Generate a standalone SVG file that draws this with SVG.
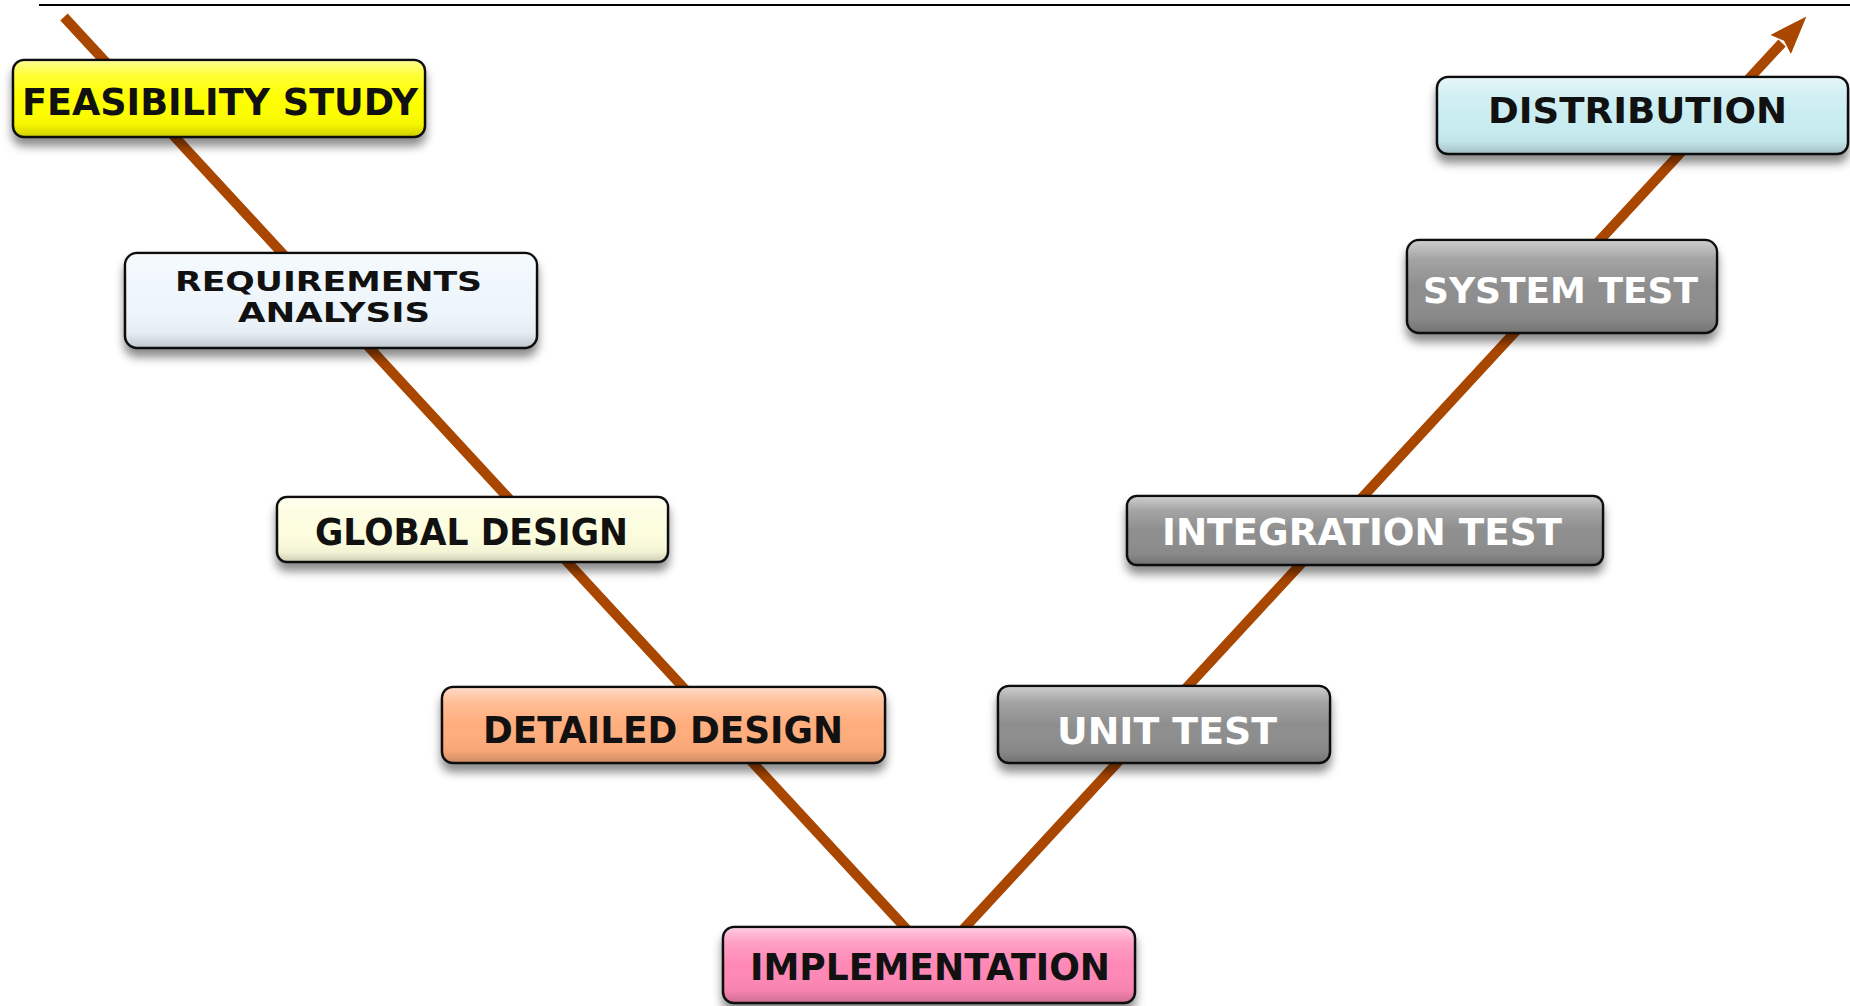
<svg xmlns="http://www.w3.org/2000/svg" width="1850" height="1006" viewBox="0 0 1850 1006">
<style>
.box{stroke:#111;stroke-width:2.5;filter:url(#shadow)}
.gloss{fill:url(#gloss);stroke:none}
.lbl{font-family:"DejaVu Sans","Liberation Sans",sans-serif;font-weight:bold;text-anchor:middle}
.dark{fill:#111}
.light{fill:#fff}
.conn{fill:none;stroke:#a94600;stroke-width:10;stroke-linejoin:miter}
</style>
<defs>
<filter id="shadow" x="-10%" y="-20%" width="120%" height="160%">
<feDropShadow dx="0" dy="8" stdDeviation="5" flood-color="#000" flood-opacity="0.45"/>
</filter>
<linearGradient id="gloss" x1="0" y1="0" x2="0" y2="1">
<stop offset="0" stop-color="#fff" stop-opacity="0.55"/>
<stop offset="0.2" stop-color="#fff" stop-opacity="0.2"/>
<stop offset="0.5" stop-color="#fff" stop-opacity="0"/>
<stop offset="0.85" stop-color="#000" stop-opacity="0.04"/>
<stop offset="1" stop-color="#000" stop-opacity="0.18"/>
</linearGradient>
<marker id="arrow" markerUnits="userSpaceOnUse" viewBox="0 0 38 28" refX="2" refY="14" markerWidth="38" markerHeight="28" orient="auto">
<path d="M0,0 L38,14 L0,28 L5,14 z" fill="#a94600"/>
</marker>
</defs>
<rect width="1850" height="1006" fill="#fff"/>
<line x1="39" y1="5" x2="1850" y2="5" stroke="#000" stroke-width="2"/>
<g id="connectors">
<polyline class="conn" points="64,17 935,960 1782,43" marker-end="url(#arrow)"/>
</g>
<g id="feasibility-study">
<rect class="box" x="13" y="60" width="412" height="77" rx="11" fill="#ffff00"/>
<rect class="gloss" x="14" y="61" width="410" height="75" rx="10"/>
<text class="lbl dark" x="220" y="115" font-size="38" textLength="396" lengthAdjust="spacingAndGlyphs">FEASIBILITY STUDY</text>
</g>
<g id="requirements-analysis">
<rect class="box" x="125" y="253" width="412" height="95" rx="12" fill="#eef6fc"/>
<rect class="gloss" x="126" y="254" width="410" height="93" rx="11"/>
<text class="lbl dark" x="328.5" y="291" font-size="26" textLength="307" lengthAdjust="spacingAndGlyphs">REQUIREMENTS</text>
<text class="lbl dark" x="334" y="322" font-size="26" textLength="192" lengthAdjust="spacingAndGlyphs">ANALYSIS</text>
</g>
<g id="global-design">
<rect class="box" x="277" y="497" width="391" height="65" rx="10" fill="#fdfdde"/>
<rect class="gloss" x="278" y="498" width="389" height="63" rx="9"/>
<text class="lbl dark" x="471.5" y="545" font-size="37" textLength="313" lengthAdjust="spacingAndGlyphs">GLOBAL DESIGN</text>
</g>
<g id="detailed-design">
<rect class="box" x="442" y="687" width="443" height="76" rx="11" fill="#ffad7c"/>
<rect class="gloss" x="443" y="688" width="441" height="74" rx="10"/>
<text class="lbl dark" x="663" y="743" font-size="37" textLength="360" lengthAdjust="spacingAndGlyphs">DETAILED DESIGN</text>
</g>
<g id="implementation">
<rect class="box" x="723" y="927" width="412" height="76" rx="11" fill="#ff88b6"/>
<rect class="gloss" x="724" y="928" width="410" height="74" rx="10"/>
<text class="lbl dark" x="930" y="980" font-size="37" textLength="360" lengthAdjust="spacingAndGlyphs">IMPLEMENTATION</text>
</g>
<g id="unit-test">
<rect class="box" x="998" y="686" width="332" height="77" rx="11" fill="#8e8e8e"/>
<rect class="gloss" x="999" y="687" width="330" height="75" rx="10"/>
<text class="lbl light" x="1167" y="744" font-size="37" textLength="220" lengthAdjust="spacingAndGlyphs">UNIT TEST</text>
</g>
<g id="integration-test">
<rect class="box" x="1127" y="496" width="476" height="69" rx="10" fill="#8e8e8e"/>
<rect class="gloss" x="1128" y="497" width="474" height="67" rx="9"/>
<text class="lbl light" x="1362" y="545" font-size="37" textLength="400" lengthAdjust="spacingAndGlyphs">INTEGRATION TEST</text>
</g>
<g id="system-test">
<rect class="box" x="1407" y="240" width="310" height="93" rx="12" fill="#8e8e8e"/>
<rect class="gloss" x="1408" y="241" width="308" height="91" rx="11"/>
<text class="lbl light" x="1560.5" y="303" font-size="35" textLength="275" lengthAdjust="spacingAndGlyphs">SYSTEM TEST</text>
</g>
<g id="distribution">
<rect class="box" x="1437" y="77" width="411" height="77" rx="11" fill="#c9edf1"/>
<rect class="gloss" x="1438" y="78" width="409" height="75" rx="10"/>
<text class="lbl dark" x="1637.5" y="123" font-size="36" textLength="299" lengthAdjust="spacingAndGlyphs">DISTRIBUTION</text>
</g>
</svg>
